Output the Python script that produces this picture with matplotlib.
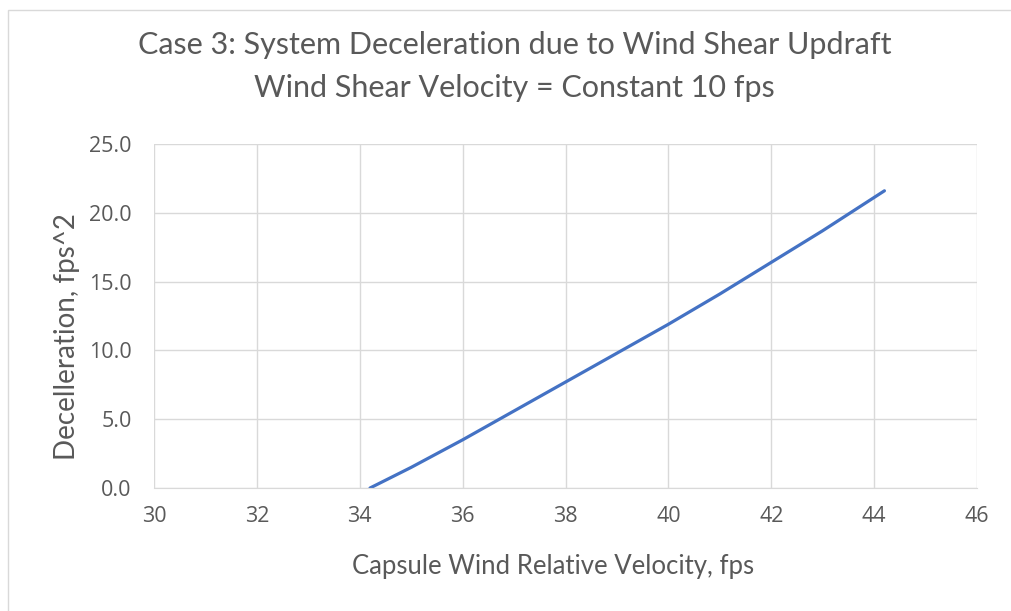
import matplotlib.pyplot as plt
from matplotlib.patches import Rectangle

# values
velocity = [34.2, 35.0, 36.0, 37.0, 38.0, 39.0, 40.0, 41.0, 42.0, 43.0, 44.2]
decel = [0.0, 1.5, 3.5, 5.6, 7.7, 9.8, 11.9, 14.1, 16.4, 18.7, 21.6]

x_ticks = [30, 32, 34, 36, 38, 40, 42, 44, 46]
y_ticks = [0, 5, 10, 15, 20, 25]

title = "Case 3: System Deceleration due to Wind Shear Updraft\nWind Shear Velocity = Constant 10 fps"
x_label = "Capsule Wind Relative Velocity, fps"
y_label = "Decelleration, fps^2"

text_col = "#595959"
grid_col = "#d9d9d9"
line_col = "#4472C4"

plt.rcParams['font.family'] = ['Lato', 'DejaVu Sans']

fig = plt.figure(figsize=(10.11, 6.11), dpi=100)
ax = fig.add_axes([0.1523, 0.2013, 0.8141, 0.5630])

ax.plot(velocity, decel, color=line_col, lw=2.3, solid_capstyle='round')

ax.set_xlim(30, 46)
ax.set_ylim(0, 25)
tick_font = dict(fontsize=15.5, family='Open Sans', color=text_col)
ax.set_xticks(x_ticks)
ax.set_xticklabels([str(v) for v in x_ticks], **tick_font)
ax.set_yticks(y_ticks)
ax.set_yticklabels([f"{v:.1f}" for v in y_ticks], **tick_font)
ax.grid(True, color=grid_col, lw=1.0)
ax.set_axisbelow(True)
ax.tick_params(length=0)
ax.tick_params(axis='x', pad=13)
ax.tick_params(axis='y', pad=16)
for side in ['top', 'right', 'left']:
    ax.spines[side].set_visible(False)
ax.spines['bottom'].set_color(grid_col)

ax.set_xlabel(x_label, fontsize=18.5, color=text_col, va='center', ha='center')
ax.xaxis.set_label_coords(0.485, -0.229)
ax.set_ylabel(y_label, fontsize=20, color=text_col, va='center', ha='center')
ax.yaxis.set_label_coords(-0.106, 0.44)

fig.text(0.509, 0.891, title, ha='center', va='center', fontsize=22,
         color=text_col, linespacing=1.65)

# chart area border
fig.patches.append(Rectangle((0.008, -0.05), 1.1, 1.034, transform=fig.transFigure,
                             fill=False, edgecolor=grid_col, lw=1.0))

fig.savefig("out.png", dpi=100)
